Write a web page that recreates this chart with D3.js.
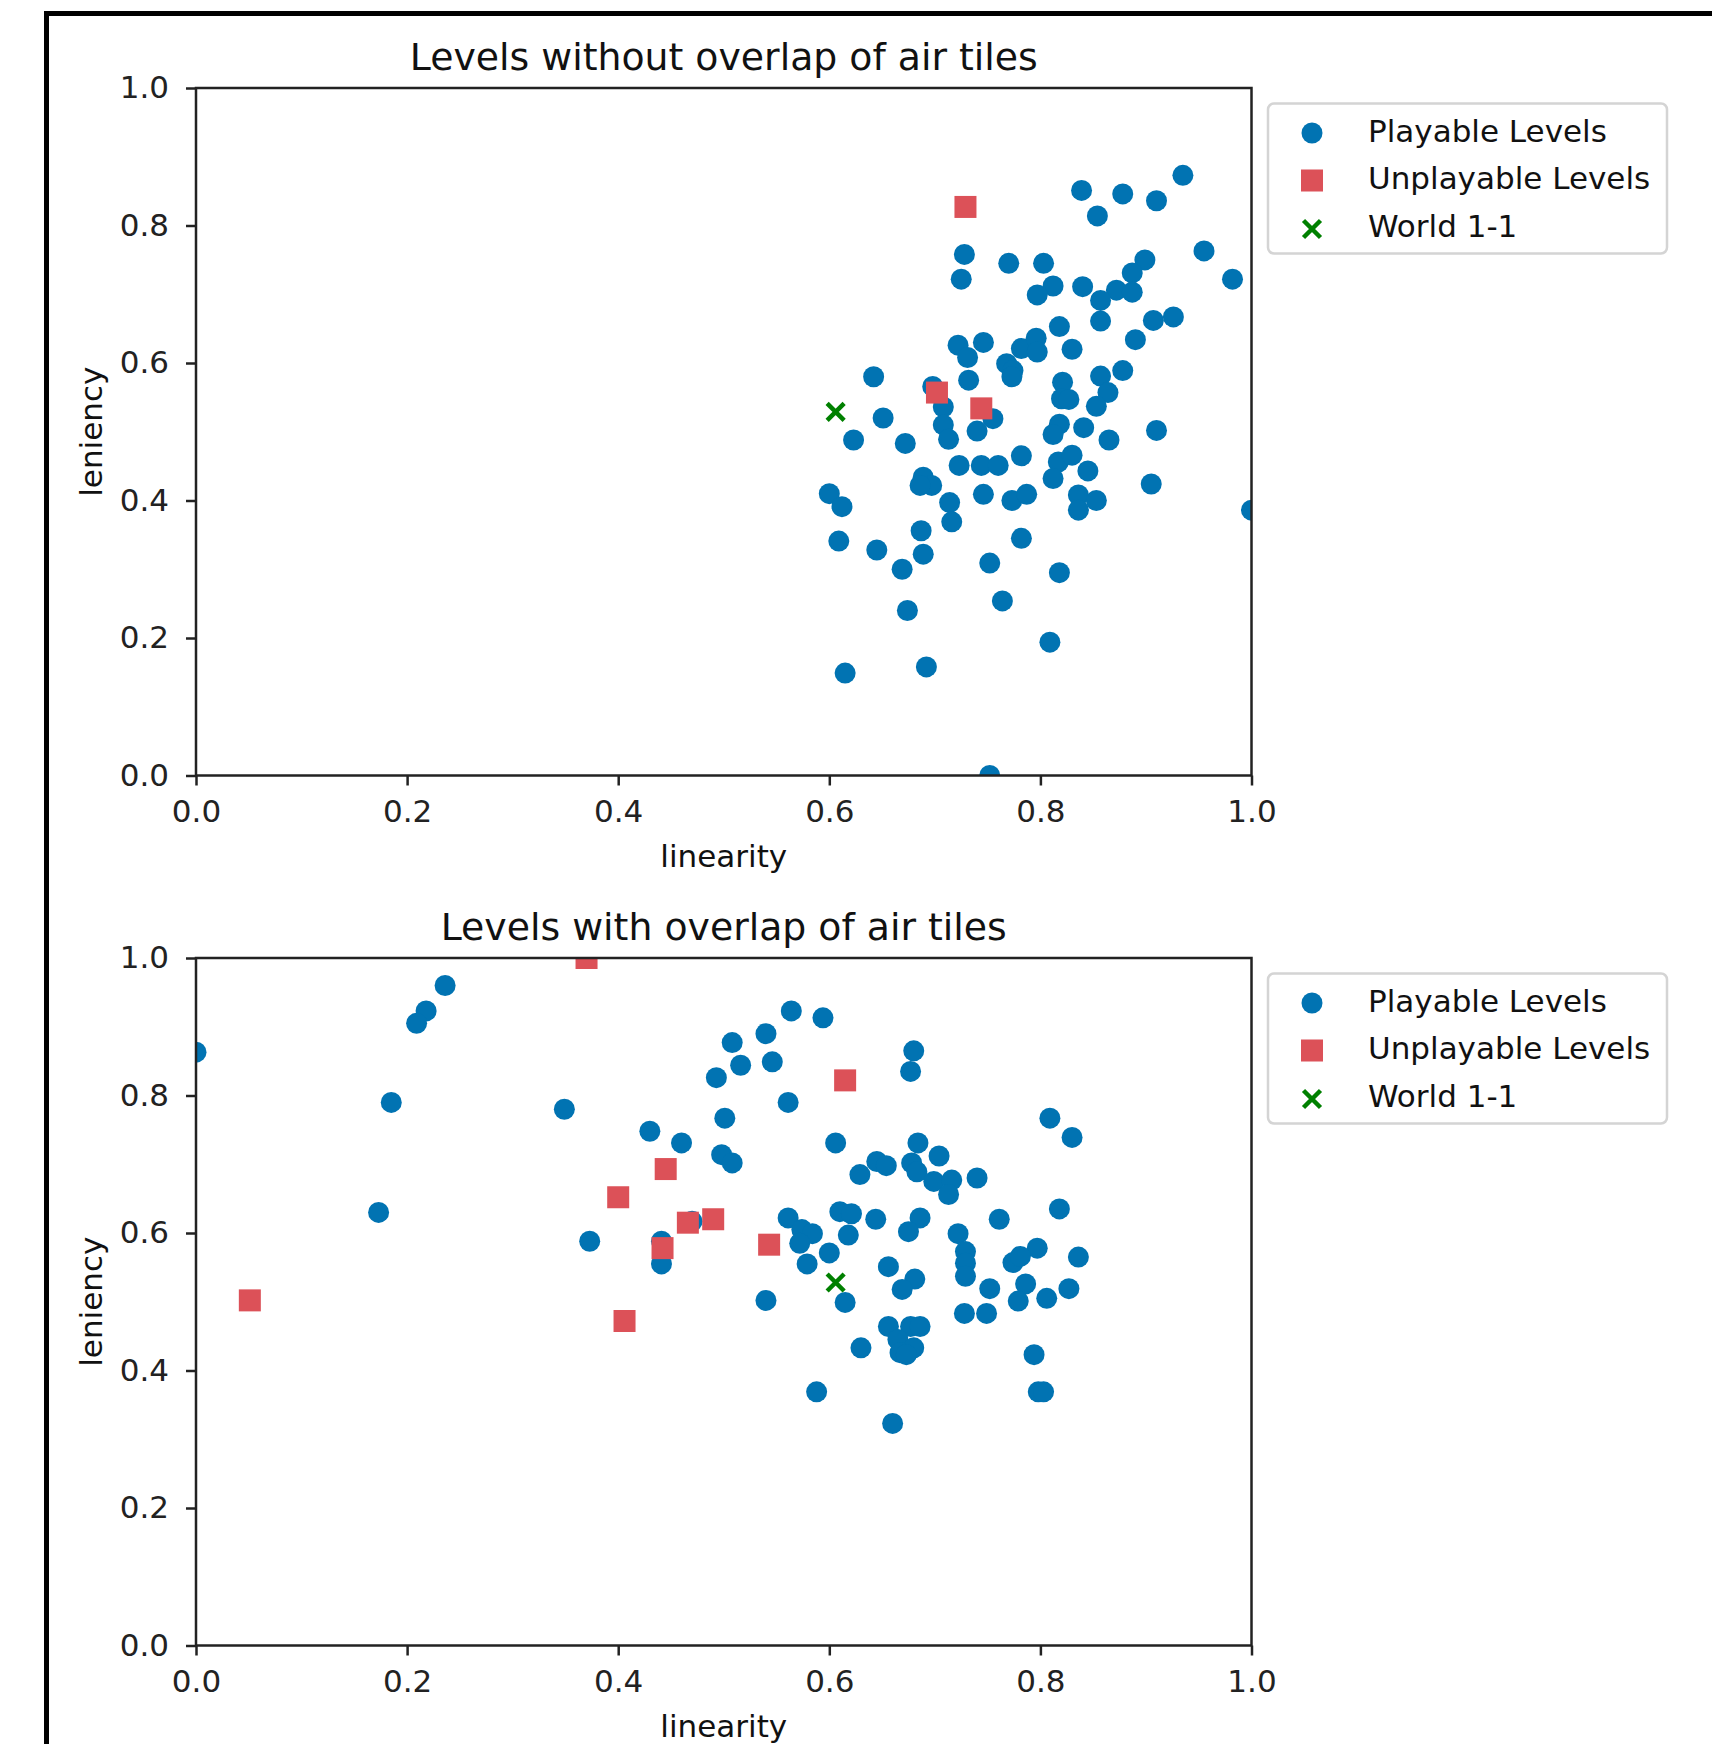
<!DOCTYPE html>
<html>
<head>
<meta charset="utf-8">
<script src="https://cdn.jsdelivr.net/npm/d3@7"></script>
<style>
  body { margin: 0; background: #fff; }
  svg { display: block; font-family: "DejaVu Sans", sans-serif; }
</style>
</head>
<body>
<div id="chart"></div>
<script>
// ---- data (linearity, leniency) ----
const topPlayable = [
  [0.839,0.851],[0.878,0.846],[0.910,0.836],[0.935,0.873],[0.854,0.814],
  [0.728,0.758],[0.725,0.722],[0.770,0.745],[0.803,0.745],[0.955,0.763],[0.982,0.722],
  [0.812,0.712],[0.797,0.699],[0.840,0.711],[0.899,0.750],[0.887,0.731],[0.872,0.706],[0.887,0.703],[0.857,0.691],
  [0.857,0.661],[0.907,0.662],[0.926,0.667],[0.818,0.653],[0.890,0.634],[0.830,0.620],
  [0.722,0.626],[0.746,0.630],[0.731,0.608],[0.782,0.621],[0.796,0.636],[0.797,0.616],
  [0.768,0.599],[0.774,0.589],[0.773,0.580],[0.732,0.575],[0.642,0.580],[0.857,0.581],[0.878,0.589],
  [0.821,0.572],[0.864,0.557],[0.820,0.548],[0.827,0.547],[0.853,0.537],
  [0.698,0.566],[0.708,0.536],[0.708,0.510],[0.713,0.489],[0.651,0.520],[0.623,0.488],[0.672,0.483],
  [0.755,0.519],[0.740,0.501],[0.818,0.511],[0.812,0.496],[0.841,0.506],[0.865,0.488],[0.910,0.502],
  [0.723,0.451],[0.744,0.451],[0.760,0.451],[0.782,0.465],[0.817,0.456],[0.830,0.466],[0.845,0.443],[0.812,0.432],
  [0.905,0.424],[0.600,0.410],[0.612,0.391],[0.689,0.434],[0.697,0.422],[0.686,0.422],[0.714,0.397],[0.716,0.369],
  [0.746,0.409],[0.773,0.400],[0.787,0.409],[0.836,0.408],[0.836,0.386],[0.853,0.400],[1.000,0.386],
  [0.609,0.341],[0.645,0.328],[0.687,0.356],[0.689,0.322],[0.669,0.300],[0.782,0.345],[0.752,0.309],[0.818,0.295],
  [0.764,0.254],[0.674,0.240],[0.809,0.194],[0.615,0.149],[0.692,0.158],[0.752,0.000]
];
const topUnplayable = [[0.729,0.827],[0.702,0.557],[0.744,0.534]];
const topWorld = [[0.606,0.529]];

const bottomPlayable = [
  [0.000,0.863],[0.236,0.960],[0.218,0.923],[0.209,0.905],[0.185,0.790],[0.349,0.780],[0.173,0.630],[0.373,0.588],
  [0.564,0.923],[0.594,0.913],[0.540,0.890],[0.508,0.877],[0.516,0.844],[0.546,0.849],[0.493,0.826],[0.561,0.790],
  [0.501,0.767],[0.430,0.748],[0.460,0.731],[0.498,0.714],[0.508,0.702],[0.680,0.865],[0.677,0.835],[0.809,0.767],
  [0.830,0.739],[0.606,0.731],[0.684,0.731],[0.704,0.712],[0.645,0.704],[0.654,0.698],[0.629,0.685],[0.678,0.702],
  [0.683,0.689],[0.699,0.675],[0.716,0.677],[0.740,0.680],[0.713,0.656],
  [0.561,0.622],[0.574,0.605],[0.584,0.599],[0.572,0.585],[0.579,0.555],[0.600,0.571],[0.610,0.631],[0.621,0.628],
  [0.618,0.597],[0.644,0.620],[0.686,0.622],[0.675,0.602],[0.722,0.599],[0.729,0.573],[0.729,0.556],[0.729,0.537],
  [0.761,0.620],[0.818,0.635],[0.797,0.578],[0.774,0.557],[0.781,0.566],[0.836,0.565],[0.786,0.526],[0.779,0.501],
  [0.806,0.505],[0.827,0.519],[0.752,0.519],[0.728,0.483],[0.749,0.483],[0.656,0.551],[0.681,0.533],[0.669,0.518],
  [0.615,0.499],[0.540,0.502],[0.441,0.588],[0.441,0.555],[0.470,0.617],[0.656,0.464],[0.677,0.464],[0.686,0.464],
  [0.665,0.445],[0.680,0.433],[0.667,0.426],[0.673,0.423],[0.630,0.433],[0.794,0.423],[0.588,0.369],[0.798,0.369],
  [0.803,0.369],[0.660,0.323]
];
const bottomUnplayable = [
  [0.370,1.000],[0.400,0.652],[0.051,0.502],[0.406,0.472],[0.615,0.822],
  [0.445,0.693],[0.466,0.615],[0.490,0.620],[0.442,0.578],[0.543,0.583]
];
const bottomWorld = [[0.606,0.528]];

const panelTitles = ["Levels without overlap of air tiles", "Levels with overlap of air tiles"];
const legendLabels = ["Playable Levels", "Unplayable Levels", "World 1-1"];
const xTicks = [0, 0.2, 0.4, 0.6, 0.8, 1.0];
const yTicks = [0, 0.2, 0.4, 0.6, 0.8, 1.0];
const xLabel = "linearity";
const yLabel = "leniency";

// ---- layout ----
const width = 1712, height = 1744;
const plotLeft = 196, plotRight = 1251.5;
const plotHeight = 687.5;
const panelTops = [88, 958];
const colors = { playable: "#0173b2", unplayable: "#dc5158", world: "#008000" };
const tickFont = 31, titleFont = 37.8;

const svg = d3.select("#chart")
    .append("svg")
    .attr("width", width)
    .attr("height", height);

svg.append("rect").attr("width", width).attr("height", height).attr("fill", "#fff");

// the black frame of the screenshot (only top and left edges are visible)
svg.append("rect")
    .attr("x", 46.5).attr("y", 13.5)
    .attr("width", width + 20).attr("height", height + 20)
    .attr("fill", "none")
    .attr("stroke", "#000")
    .attr("stroke-width", 5);

const x = d3.scaleLinear().domain([0, 1]).range([plotLeft, plotRight]);

const panels = [
    { title: panelTitles[0], playable: topPlayable, unplayable: topUnplayable, world: topWorld },
    { title: panelTitles[1], playable: bottomPlayable, unplayable: bottomUnplayable, world: bottomWorld }
];

panels.forEach((p, i) => drawPanel(p, panelTops[i], i));

function crossPath(s) {
    return `M${-s},${-s}L${s},${s}M${-s},${s}L${s},${-s}`;
}

function drawPanel(panel, top, idx) {
    const y = d3.scaleLinear().domain([0, 1]).range([top + plotHeight, top]);
    const g = svg.append("g");

    const clipId = "clip" + idx;
    svg.append("clipPath").attr("id", clipId)
        .append("rect")
        .attr("x", plotLeft).attr("y", top)
        .attr("width", plotRight - plotLeft).attr("height", plotHeight);

    // axes
    const xAxis = g.append("g")
        .attr("transform", `translate(0,${top + plotHeight})`)
        .call(d3.axisBottom(x).tickValues(xTicks).tickFormat(d3.format(".1f")).tickSize(10).tickPadding(14));
    const yAxis = g.append("g")
        .attr("transform", `translate(${plotLeft},0)`)
        .call(d3.axisLeft(y).tickValues(yTicks).tickFormat(d3.format(".1f")).tickSize(10).tickPadding(17));
    [xAxis, yAxis].forEach(a => {
        a.select(".domain").remove();
        a.selectAll(".tick line").attr("stroke", "#222").attr("stroke-width", 2.5);
        a.selectAll(".tick text")
            .attr("fill", "#222")
            .style("font-size", tickFont + "px")
            .style("font-family", "DejaVu Sans");
    });

    // scatter marks
    const marks = g.append("g").attr("clip-path", `url(#${clipId})`);
    marks.selectAll("circle.playable")
        .data(panel.playable)
        .join("circle")
        .attr("class", "playable")
        .attr("cx", d => x(d[0]))
        .attr("cy", d => y(d[1]))
        .attr("r", 10.5)
        .attr("fill", colors.playable);
    marks.selectAll("rect.unplayable")
        .data(panel.unplayable)
        .join("rect")
        .attr("class", "unplayable")
        .attr("x", d => x(d[0]) - 11)
        .attr("y", d => y(d[1]) - 11)
        .attr("width", 22).attr("height", 22)
        .attr("fill", colors.unplayable);
    marks.selectAll("path.world")
        .data(panel.world)
        .join("path")
        .attr("class", "world")
        .attr("transform", d => `translate(${x(d[0])},${y(d[1])})`)
        .attr("d", crossPath(8.5))
        .attr("stroke", colors.world)
        .attr("stroke-width", 4.5)
        .attr("fill", "none");

    // spines
    g.append("rect")
        .attr("x", plotLeft).attr("y", top)
        .attr("width", plotRight - plotLeft).attr("height", plotHeight)
        .attr("fill", "none")
        .attr("stroke", "#222")
        .attr("stroke-width", 2.5);

    // title and labels
    g.append("text")
        .attr("x", (plotLeft + plotRight) / 2)
        .attr("y", top - 18)
        .attr("text-anchor", "middle")
        .style("font-size", titleFont + "px")
        .attr("fill", "#111")
        .text(panel.title);
    g.append("text")
        .attr("x", (plotLeft + plotRight) / 2)
        .attr("y", top + plotHeight + 91)
        .attr("text-anchor", "middle")
        .style("font-size", tickFont + "px")
        .attr("fill", "#111")
        .text(xLabel);
    g.append("text")
        .attr("transform", `translate(102,${top + plotHeight / 2}) rotate(-90)`)
        .attr("text-anchor", "middle")
        .style("font-size", tickFont + "px")
        .attr("fill", "#111")
        .text(yLabel);

    // legend
    const leg = g.append("g").attr("transform", `translate(1268,${top + 15.5})`);
    leg.append("rect")
        .attr("width", 399).attr("height", 150)
        .attr("rx", 6)
        .attr("fill", "#fff")
        .attr("stroke", "#d4d4d4")
        .attr("stroke-width", 2.5);
    const rows = [27.5, 75, 122.5];
    leg.append("circle").attr("cx", 44).attr("cy", rows[0] + 2).attr("r", 10.5).attr("fill", colors.playable);
    leg.append("rect").attr("x", 33).attr("y", rows[1] + 2 - 11).attr("width", 22).attr("height", 22).attr("fill", colors.unplayable);
    leg.append("path")
        .attr("transform", `translate(44,${rows[2] + 3})`)
        .attr("d", crossPath(8.5))
        .attr("stroke", colors.world).attr("stroke-width", 4.5).attr("fill", "none");
    leg.selectAll("text.lbl")
        .data(legendLabels)
        .join("text")
        .attr("class", "lbl")
        .attr("x", 100)
        .attr("y", (d, k) => rows[k])
        .attr("dy", "0.35em")
        .style("font-size", tickFont + "px")
        .attr("fill", "#111")
        .text(d => d);
}
</script>
</body>
</html>
